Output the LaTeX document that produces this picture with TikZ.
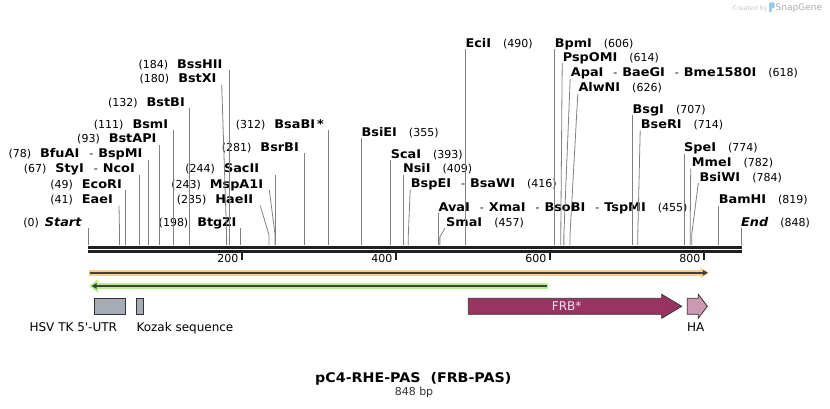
\documentclass[tikz,border=0pt]{standalone}
\usepackage{fontspec}
\setmainfont{DejaVu Sans}[BoldFeatures={FakeStretch=1.07},BoldItalicFeatures={FakeStretch=1.07}]
\usepackage{tikz}
\usetikzlibrary{arrows.meta}

\definecolor{cutgray}{RGB}{128,128,128}
\definecolor{orangeband}{RGB}{255,206,128}
\definecolor{greenband}{RGB}{183,240,136}
\definecolor{featdark}{RGB}{64,64,64}
\definecolor{frbfill}{RGB}{153,51,98}
\definecolor{hafill}{RGB}{204,153,179}
\definecolor{utrfill}{RGB}{166,172,181}
\definecolor{logoblue}{RGB}{150,200,235}

\newcommand{\cutpos}[1]{{\fontsize{11}{13}\selectfont\mdseries(#1)}}
\newcommand{\cutsep}{{\fontsize{11}{13}\selectfont\mdseries\hspace{10pt}-\hspace{5pt}}}

\tikzset{
  enzlbl/.style={inner sep=0pt, font=\fontsize{12}{14}\selectfont\bfseries},
  lftlbl/.style={enzlbl, anchor=base east},
  rgtlbl/.style={enzlbl, anchor=base west},
  cut/.style={draw=cutgray, line width=0.8pt},
  axisline/.style={line width=2.7pt, black!88},
  tickmark/.style={line width=2pt, black!88},
  ticklbl/.style={inner sep=0pt, anchor=east, font=\fontsize{11}{13}\selectfont},
  featline/.style={draw=featdark, line width=1.7pt},
  featbox/.style={draw=black!80, line width=0.8pt},
  featlbl/.style={inner sep=0pt, font=\fontsize{12}{14}\selectfont}
}

\begin{document}
\begin{tikzpicture}[x=1pt,y=-1pt,>=Stealth]
\useasboundingbox (0,0) rectangle (830,409);

% cut sites, in bp along the sequence
\begin{scope}[xshift=88pt,x=0.77pt]
  \foreach \p in {0,41,49,67,78,93,111,132,180,184,198,235,243,244,281,312,355,393,409,416,455,457,490,606,614,618,626,707,714,774,782,784,819,848}
    \coordinate (s\p) at (\p,245);
  \foreach \t in {200,400,600,800} {
    \draw[tickmark] (\t,252.5) -- (\t,259.5);
    \node[ticklbl] (tick\t) at ([xshift=-3.5pt]\t,258.6) {\t};
  }
\end{scope}

% sequence
\draw[axisline] (88,247.3) -- (741.5,247.3);
\draw[axisline] (88,251.5) -- (741.5,251.5);

% enzymes, left of their line
\node[lftlbl] (start) at (82,226.3) {\cutpos{0}\hspace{6pt}\textit{Start}};
\node[lftlbl] (eaeI) at (113,203.8) {\cutpos{41}\hspace{9pt}EaeI};
\node[lftlbl] (ecoRI) at (122,188.2) {\cutpos{49}\hspace{9pt}EcoRI};
\node[lftlbl] (styI) at (135,172.8) {\cutpos{67}\hspace{9pt}StyI\cutsep NcoI};
\node[lftlbl] (bfuAI) at (142.7,157.8) {\cutpos{78}\hspace{9pt}BfuAI\cutsep BspMI};
\node[lftlbl] (bstAPI) at (156.7,142.8) {\cutpos{93}\hspace{9pt}BstAPI};
\node[lftlbl] (bsmI) at (168.3,128.3) {\cutpos{111}\hspace{9pt}BsmI};
\node[lftlbl] (bstBI) at (185,106.2) {\cutpos{132}\hspace{9pt}BstBI};
\node[lftlbl] (bstXI) at (216.7,82.8) {\cutpos{180}\hspace{9pt}BstXI};
\node[lftlbl] (bssHII) at (222.7,68.5) {\cutpos{184}\hspace{9pt}BssHII};
\node[lftlbl] (btgZI) at (236.7,226.3) {\cutpos{198}\hspace{9pt}BtgZI};
\node[lftlbl] (haeII) at (253.3,203.8) {\cutpos{235}\hspace{9pt}HaeII};
\node[lftlbl] (mspA1I) at (263.3,188.2) {\cutpos{243}\hspace{9pt}MspA1I};
\node[lftlbl] (sacII) at (259.3,172.8) {\cutpos{244}\hspace{9pt}SacII};
\node[lftlbl] (bsrBI) at (299,151.2) {\cutpos{281}\hspace{9pt}BsrBI};
\node[lftlbl] (bsaBI) at (324,128.3) {\cutpos{312}\hspace{9pt}BsaBI\,*};

% enzymes, right of their line
\node[rgtlbl] (bsiEI) at (361.4,136.2) {BsiEI\hspace{12pt}\cutpos{355}};
\node[rgtlbl] (scaI) at (390.6,158.5) {ScaI\hspace{12pt}\cutpos{393}};
\node[rgtlbl] (nsiI) at (402.9,172.8) {NsiI\hspace{12pt}\cutpos{409}};
\node[rgtlbl] (bspEI) at (410.7,187.8) {BspEI\cutsep BsaWI\hspace{12pt}\cutpos{416}};
\node[rgtlbl] (avaI) at (438.4,211.2) {AvaI\cutsep XmaI\cutsep BsoBI\cutsep TspMI\hspace{12pt}\cutpos{455}};
\node[rgtlbl] (smaI) at (446,226.2) {SmaI\hspace{12pt}\cutpos{457}};
\node[rgtlbl] (eciI) at (465.3,47.2) {EciI\hspace{12pt}\cutpos{490}};
\node[rgtlbl] (bpmI) at (554.6,47.2) {BpmI\hspace{12pt}\cutpos{606}};
\node[rgtlbl] (pspOMI) at (562.7,61.2) {PspOMI\hspace{12pt}\cutpos{614}};
\node[rgtlbl] (apaI) at (570.7,76.8) {ApaI\cutsep BaeGI\cutsep Bme1580I\hspace{12pt}\cutpos{618}};
\node[rgtlbl] (alwNI) at (578.3,91.8) {AlwNI\hspace{12pt}\cutpos{626}};
\node[rgtlbl] (bsgI) at (632.4,113.5) {BsgI\hspace{12pt}\cutpos{707}};
\node[rgtlbl] (bseRI) at (640.7,128.8) {BseRI\hspace{12pt}\cutpos{714}};
\node[rgtlbl] (speI) at (684,151.8) {SpeI\hspace{12pt}\cutpos{774}};
\node[rgtlbl] (mmeI) at (691.7,166.8) {MmeI\hspace{12pt}\cutpos{782}};
\node[rgtlbl] (bsiWI) at (699.3,181.2) {BsiWI\hspace{12pt}\cutpos{784}};
\node[rgtlbl] (bamHI) at (718.6,203.8) {BamHI\hspace{12pt}\cutpos{819}};
\node[rgtlbl] (end) at (741,226.2) {\textit{End}\hspace{12pt}\cutpos{848}};

% lines from the sites up to the labels
\draw[cut] (s0) -- ([yshift=-1.8pt]s0 |- start.base);
\draw[cut] (s41) -- ++(0,-10) -- ([xshift=6pt,yshift=-1.8pt]eaeI.base east);
\draw[cut] (s49) -- ([yshift=-1.8pt]s49 |- ecoRI.base);
\draw[cut] (s67) -- ([yshift=-1.8pt]s67 |- styI.base);
\draw[cut] (s78) -- ([yshift=-1.8pt]s78 |- bfuAI.base);
\draw[cut] (s93) -- ([yshift=-1.8pt]s93 |- bstAPI.base);
\draw[cut] (s111) -- ([yshift=-1.8pt]s111 |- bsmI.base);
\draw[cut] (s132) -- ([yshift=-1.8pt]s132 |- bstBI.base);
\draw[cut] (s180) -- ++(0,-10) -- ([xshift=5pt,yshift=-1.8pt]bstXI.base east);
\draw[cut] (s184) -- ([yshift=-1.8pt]s184 |- bssHII.base);
\draw[cut] (s198) -- ([yshift=-1.8pt]s198 |- btgZI.base);
\draw[cut] (s235) -- ++(0,-10) -- ([xshift=7pt,yshift=-1.8pt]haeII.base east);
\draw[cut] (s243) -- ++(0,-10) -- ([xshift=6pt,yshift=-1.8pt]mspA1I.base east);
\draw[cut] (s244) -- ([yshift=-1.8pt]s244 |- sacII.base);
\draw[cut] (s281) -- ([yshift=-1.8pt]s281 |- bsrBI.base);
\draw[cut] (s312) -- ([yshift=-1.8pt]s312 |- bsaBI.base);
\draw[cut] (s355) -- ([yshift=-1.8pt]s355 |- bsiEI.base);
\draw[cut] (s393) -- ([yshift=-1.8pt]s393 |- scaI.base);
\draw[cut] (s409) -- ([yshift=-1.8pt]s409 |- nsiI.base);
\draw[cut] (s416) -- ++(0,-10) -- ([xshift=-0.5pt,yshift=-1.8pt]bspEI.base west);
\draw[cut] (s455) -- ([yshift=-1.8pt]s455 |- avaI.base);
\draw[cut] (s457) -- ++(0,-8) -- ([xshift=-1pt,yshift=-1.8pt]smaI.base west);
\draw[cut] (s490) -- ([yshift=-1.8pt]s490 |- eciI.base);
\draw[cut] (s606) -- ([yshift=-1.8pt]s606 |- bpmI.base);
\draw[cut] (s614) -- ++(0,-10) -- ([xshift=-0.5pt,yshift=-1.8pt]pspOMI.base west);
\draw[cut] (s618) -- ++(0,-10) -- ([xshift=-0.5pt,yshift=-1.8pt]apaI.base west);
\draw[cut] (s626) -- ++(0,-10) -- ([xshift=-0.5pt,yshift=-1.8pt]alwNI.base west);
\draw[cut] (s707) -- ([yshift=-1.8pt]s707 |- bsgI.base);
\draw[cut] (s714) -- ++(0,-10) -- ([xshift=-0.5pt,yshift=-1.8pt]bseRI.base west);
\draw[cut] (s774) -- ([yshift=-1.8pt]s774 |- speI.base);
\draw[cut] (s782) -- ++(0,-10) -- ([xshift=-1pt,yshift=-1.8pt]mmeI.base west);
\draw[cut] (s784) -- ++(0,-10) -- ([xshift=-1pt,yshift=-1.8pt]bsiWI.base west);
\draw[cut] (s819) -- ([yshift=-1.8pt]s819 |- bamHI.base);
\draw[cut] (s848) -- ([yshift=-1.8pt]s848 |- end.base);

% orange and green features
\fill[orangeband] (89,269.9) rectangle (702,275.7);
\fill[orangeband] (700.5,267.5) -- (709.3,272.8) -- (700.5,278.1) -- cycle;
\draw[featline, -{Triangle[length=5pt,width=5.5pt]}] (89.5,272.8) -- (707.8,272.8);
\fill[greenband] (96,282.7) rectangle (548.3,289.3);
\fill[greenband] (98,279.3) -- (89,286) -- (98,292.7) -- cycle;
\draw[featline, -{Triangle[length=5pt,width=5.5pt]}] (547,286) -- (91.5,286);

% boxes and arrows
\filldraw[featbox, fill=utrfill] (94.3,298.3) rectangle (125.7,314.3);
\filldraw[featbox, fill=utrfill] (136.3,298.3) rectangle (143.7,314.3);
\filldraw[featbox, fill=frbfill] (468.3,298.3) -- (661.7,298.3) -- (661.7,294.3) -- (681.7,306.3)
  -- (661.7,318.3) -- (661.7,314.3) -- (468.3,314.3) -- cycle;
\filldraw[featbox, fill=hafill] (687.3,298.3) -- (698.3,298.3) -- (698.3,294.3) -- (707.3,306.3)
  -- (698.3,318.3) -- (698.3,314.3) -- (687.3,314.3) -- cycle;

\node[featlbl, anchor=base, text={rgb,255:red,245;green,225;blue,235}] (frb) at (566.7,310) {FRB*};
\node[featlbl, anchor=base] (ha) at (695.7,331.7) {HA};
\node[featlbl, anchor=base] (utr) at (73.3,331.7) {HSV TK 5\textquotesingle-UTR};
\node[featlbl, anchor=base west] (kozak) at (136.3,331.7) {Kozak sequence};

% title
\node[anchor=base, inner sep=0pt, font=\fontsize{13.3}{16}\selectfont\bfseries] (title) at (413.3,382.7) {pC4-RHE-PAS\hspace{10pt}(FRB-PAS)};
\node[anchor=base, inner sep=0pt, font=\fontsize{11}{13}\selectfont, text=black!80] (length) at (414,395) {848 bp};

% credit
\node[anchor=base west, inner sep=0pt, font=\fontsize{6.3}{7}\selectfont, text=black!22] (made) at (732.7,10.5) {Created by};
\fill[logoblue, rounded corners=1pt] (769,2.5) -- (774.5,2.5) -- (774.5,8) -- (771.5,8) -- (771.5,12.5) -- (769,12.5) -- cycle;
\node[anchor=base west, inner sep=0pt, font=\fontsize{9}{10}\selectfont, text=black!32] (snap) at (775.5,11) {SnapGene};

\end{tikzpicture}
\end{document}
